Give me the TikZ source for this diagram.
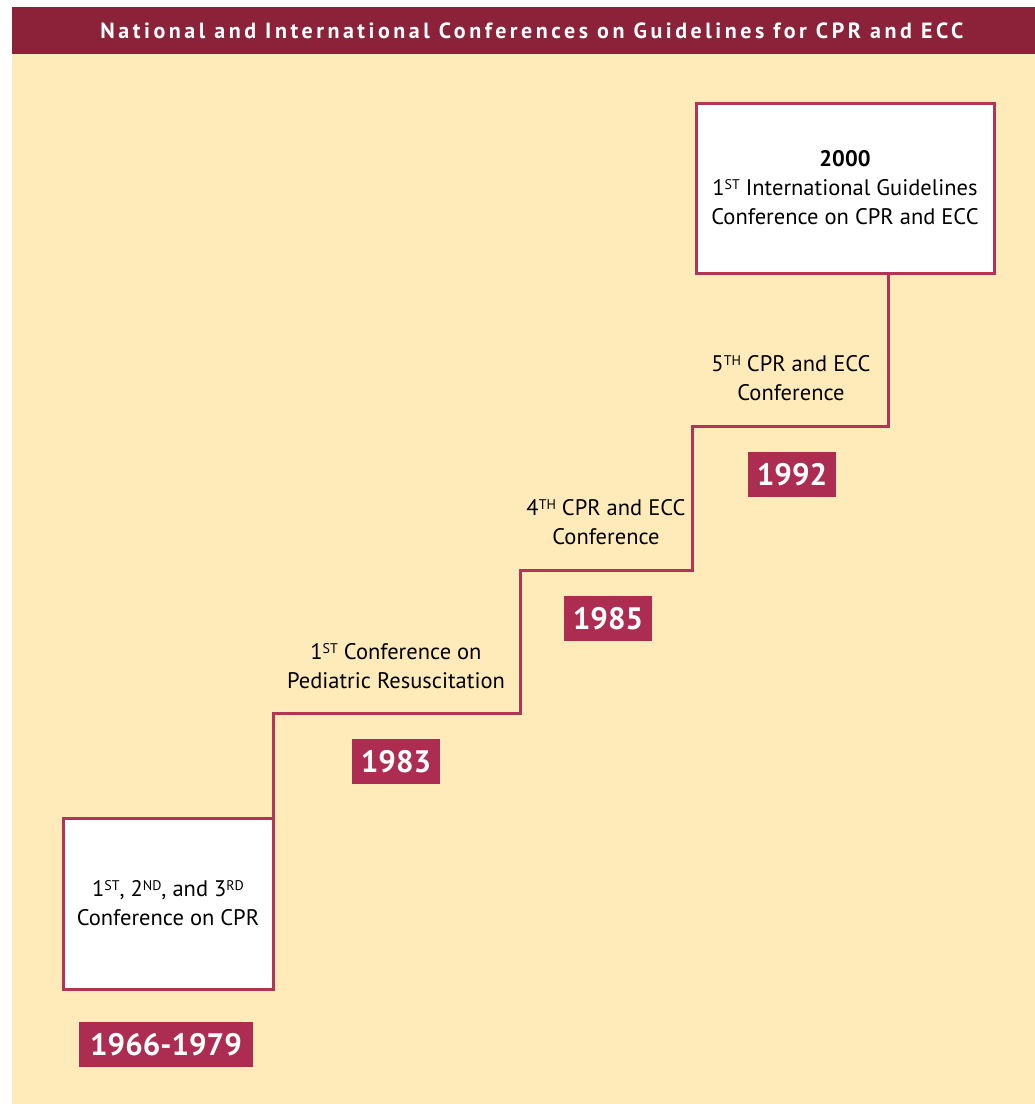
\documentclass[tikz,border=0pt]{standalone}
\usepackage{fontspec}
\setmainfont{PT Sans}
\newfontfamily\titlefont[LetterSpace=16]{PT Sans Bold}
\definecolor{hdr}{HTML}{8B2239}
\definecolor{beige}{HTML}{FFEAB9}
\definecolor{edge}{HTML}{B23456}
\definecolor{yearfill}{HTML}{AD2D52}
\newcommand{\sups}[1]{\raisebox{0.55ex}{\fontsize{14}{14}\selectfont #1}}
\begin{document}
\begin{tikzpicture}[x=1pt,y=-1pt,
  conf/.style={draw=edge,line width=3pt,fill=white,inner sep=0pt,align=center,
    font=\fontsize{22.5}{29}\selectfont},
  yearbox/.style={fill=yearfill,text=white,inner sep=0pt,
    font=\fontsize{31}{31}\bfseries\selectfont,minimum height=45pt},
  lbl/.style={align=center,font=\fontsize{22.5}{29}\selectfont,inner sep=0pt},
  stair/.style={draw=edge,line width=3pt,line join=miter}]
\useasboundingbox (0,0) rectangle (1035,1104);
\fill[white] (0,0) rectangle (1035,1104);
\fill[beige] (12,54) rectangle (1035,1104);
\fill[hdr] (12,7) rectangle (1035,54);
\node[text=white,font=\fontsize{22}{22}\titlefont\selectfont] (title) at (532,30.5)
  {National and International Conferences on Guidelines for CPR and ECC};
% staircase coordinates
\coordinate (s1) at (273,713);
\coordinate (s2) at (520,713);
\coordinate (s3) at (520,570);
\coordinate (s4) at (692,570);
\coordinate (s5) at (692,426);
\coordinate (s6) at (888,426);
\node[conf,minimum width=298pt,minimum height=170pt] (b2000) at (845,188)
  {{\bfseries 2000}\\1\sups{ST} International Guidelines\\Conference on CPR and ECC};
\node[conf,minimum width=210pt,minimum height=171pt] (bcpr) at (168,903.5)
  {1\sups{ST}, 2\sups{ND}, and 3\sups{RD}\\Conference on CPR};
\draw[stair] (s1 |- bcpr.north) -- (s1) -- (s2) -- (s3) -- (s4) -- (s5) -- (s6) -- (s6 |- b2000.south);
\node[lbl] (l1983) at (396,666.5) {1\sups{ST} Conference on\\Pediatric Resuscitation};
\node[lbl] (l1985) at (606,522.5) {4\sups{TH} CPR and ECC\\Conference};
\node[lbl] (l1992) at (791,378.5) {5\sups{TH} CPR and ECC\\Conference};
\node[yearbox,minimum width=174pt] (y1966) at (166,1044.5) {1966-1979};
\node[yearbox,minimum width=88pt] (y1983) at (396,761.5) {1983};
\node[yearbox,minimum width=88pt] (y1985) at (608,618.5) {1985};
\node[yearbox,minimum width=88pt] (y1992) at (792,474.5) {1992};
\end{tikzpicture}
\end{document}
